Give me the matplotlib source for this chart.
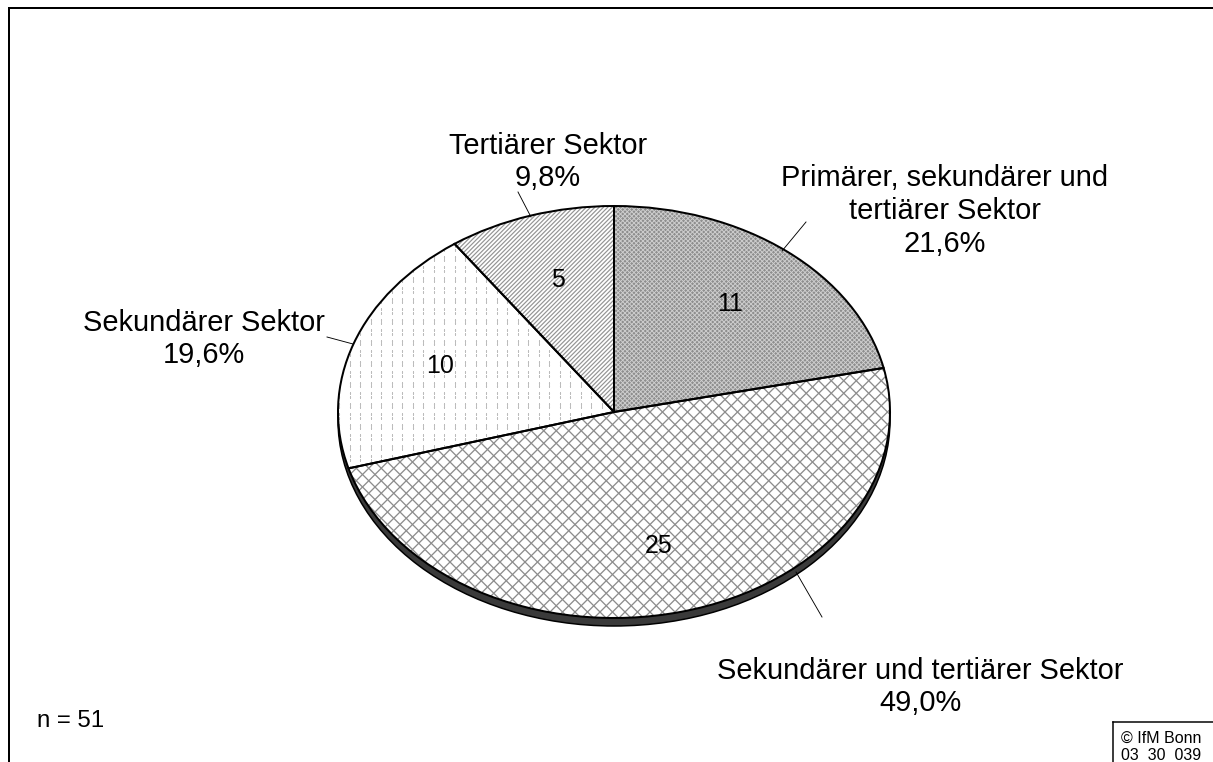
import numpy as np
import matplotlib
matplotlib.use("Agg")
import matplotlib.pyplot as plt
from matplotlib.lines import Line2D
from matplotlib.patches import Ellipse
from matplotlib.collections import LineCollection
from matplotlib.transforms import IdentityTransform

# ---- data ----
categories = ["Primärer, sekundärer und\ntertiärer Sektor",
              "Sekundärer und tertiärer Sektor",
              "Sekundärer Sektor",
              "Tertiärer Sektor"]
counts = [11, 25, 10, 5]
percent_labels = ["21,6%", "49,0%", "19,6%", "9,8%"]
n_total = 51

W, H = 1213, 762
DPI = 72
plt.rcParams['font.family'] = ['Liberation Sans', 'DejaVu Sans']

fig = plt.figure(figsize=(W / DPI, H / DPI), dpi=DPI)
fig.patch.set_facecolor('white')

def fx(x):
    return x / W

def fy(y):
    return 1 - y / H

# pie geometry (pixels)
cx, cy, rx, ry = 614, 412, 276, 206
m = 1.15
ax = fig.add_axes([fx(cx - rx * m), fy(cy + ry * m), 2 * rx * m / W, 2 * ry * m / H])
ax.axis('off')

# side rim (3D look)
rim = Ellipse((0, -8.0 / ry), 2, 2, facecolor='#3a3a3a', edgecolor='black',
              linewidth=1.5, zorder=0, clip_on=False)
ax.add_patch(rim)

faces = ['#8e8e8e', 'white', 'white', 'white']

total = sum(counts)
wedges, _, autotexts = ax.pie(counts, startangle=90, counterclock=False, radius=1,
                              autopct=lambda p: f"{round(p * total / 100)}",
                              pctdistance=0.67,
                              wedgeprops=dict(linewidth=0),
                              textprops=dict(fontsize=25, color='black'))
for w, fc in zip(wedges, faces):
    w.set_facecolor(fc)
    w.set_linewidth(0)
    w.set_zorder(1)
    w.set_clip_on(False)

outl, _ = ax.pie(counts, startangle=90, counterclock=False, radius=1,
                 wedgeprops=dict(facecolor='none', edgecolor='black', linewidth=2))
for w in outl:
    w.set_zorder(4)
    w.set_clip_on(False)
for t in autotexts:
    t.set_zorder(5)
ax.set_aspect('auto')
ax.set_xlim(-m, m)
ax.set_ylim(-m, m)

# ---- textures (display pixel space, clipped to wedges) ----
x0d, x1d = cx - rx - 20, cx + rx + 20
y0d, y1d = (H - cy) - ry - 20, (H - cy) + ry + 20
span = (x1d - x0d) + (y1d - y0d)

def diag_lines(step, direction):
    segs = []
    for c in np.arange(-span, span, step):
        if direction > 0:   # '/'
            segs.append([(x0d + c, y0d), (x0d + c + span, y0d + span)])
        else:               # '\'
            segs.append([(x0d + c, y1d), (x0d + c + span, y1d - span)])
    return segs

def add_lines(segs, wedge, color, lw):
    lc = LineCollection(segs, colors=color, linewidths=lw, transform=IdentityTransform(),
                        zorder=2, antialiased=True)
    ax.add_artist(lc)
    lc.set_clip_path(wedge)

# slice 0: dense cross pattern on gray
add_lines(diag_lines(4.5, 1) + diag_lines(4.5, -1), wedges[0], '#d4d4d4', 0.9)
# slice 1: open diamond lattice
add_lines(diag_lines(12.5, 1) + diag_lines(12.5, -1), wedges[1], '#8c8c8c', 1.3)
# slice 3: fine diagonal stripes
add_lines(diag_lines(4.3, 1), wedges[3], '#949494', 1.2)
# slice 2: dotted grid
gx, gy = np.meshgrid(np.arange(x0d, x1d, 10.5), np.arange(y0d, y1d, 10.5))
for dy in (0, 3.5):
    dots = Line2D(gx.ravel(), gy.ravel() + dy, linestyle='none', marker='s',
                  markersize=1.1, markeredgewidth=0, color='#bcbcbc',
                  transform=IdentityTransform(), zorder=2)
    ax.add_artist(dots)
    dots.set_clip_path(wedges[2])

# outer labels
label_pos = [(945, 211), (920, 687), (204, 339), (548, 162)]
for cat, pct, (x, y) in zip(categories, percent_labels, label_pos):
    fig.text(fx(x), fy(y), f"{cat}\n{pct}", ha='center', va='center',
             fontsize=29, linespacing=1.22)

# leader lines
leaders = [((806, 222), (782, 251)),
           ((822, 617), (796, 572)),
           ((327, 337), (353, 344)),
           ((518, 192), (531, 217))]
for (xa, ya), (xb, yb) in leaders:
    fig.add_artist(Line2D([fx(xa), fx(xb)], [fy(ya), fy(yb)], color='black', lw=0.9))

# frame
fig.add_artist(Line2D([fx(9), fx(9)], [fy(8), fy(H + 5)], color='black', lw=2))
fig.add_artist(Line2D([fx(9), fx(W + 5)], [fy(8), fy(8)], color='black', lw=2))

# n
fig.text(fx(37), fy(721), f"n = {n_total}", ha='left', va='center', fontsize=24)

# copyright box
fig.add_artist(Line2D([fx(1113), fx(1113)], [fy(722), fy(H + 5)], color='black', lw=1.5))
fig.add_artist(Line2D([fx(1113), fx(W + 5)], [fy(722), fy(722)], color='black', lw=1.5))
fig.text(fx(1121), fy(738), "© IfM Bonn", ha='left', va='center', fontsize=16)
fig.text(fx(1121), fy(755), "03  30  039", ha='left', va='center', fontsize=16)

fig.savefig("out.png", dpi=DPI, facecolor='white')
